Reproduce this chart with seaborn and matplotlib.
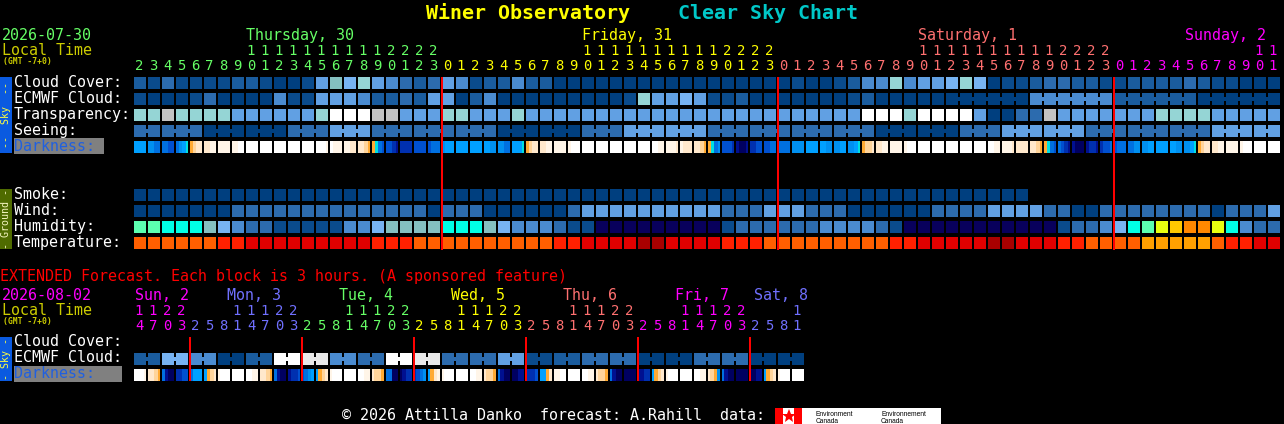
import numpy as np
import matplotlib
matplotlib.use("Agg")
import matplotlib.pyplot as plt
from matplotlib.colors import ListedColormap
from matplotlib.patches import Rectangle
import seaborn as sns

# block colours, the lists below index into this
level_colors = ["#003f7f", "#0a4b8c", "#1a5c9e", "#2c6bae", "#4a8bd0", "#61a0e3",
                "#77b3f2", "#84c0c0", "#95d5d5", "#c3c3c3", "#e9e9e9", "#ffffff",
                "#5cffb0", "#00ffe6", "#e8ff10", "#ffc800", "#ff8800", "#08005c",
                "#ff5f00", "#ff2000", "#e00000", "#a80000", "#ffa000"]

dark_keys = "abcdefghijklm"
dark_colors = ["#ffffff", "#fff5e8", "#ffe8cc", "#ffd49a", "#ffaa33", "#00e0e0", "#00a0ff",
               "#0090f0", "#0070e0", "#0050d0", "#0030b0", "#001090", "#000060"]

cloud_cover = [2, 1, 3, 1, 1, 1, 1, 2, 2, 1, 0, 0, 1, 5, 7, 6, 8, 5, 4, 3, 2,
               3, 5, 4, 1, 2, 2, 4, 2, 2, 0,
               0, 0, 0, 0, 0, 0, 0, 0, 0, 0, 0, 0, 0, 0, 0, 0,
               1, 0, 0, 1, 2,
               4, 4, 8, 4, 5, 5, 6, 8, 6,
               0, 1, 1, 2, 3, 3, 2, 2, 1, 1, 2, 2, 2, 2, 3, 2, 1, 1, 0, 0, 0]
ecmwf = [1, 0, 0, 0, 1, 3, 0, 0, 0, 0, 4, 1, 1, 5, 5, 5, 4, 2, 2, 3, 2,
         5, 5, 0, 2, 4, 0, 0, 0, 0, 0, 0, 0, 0, 0,
         1, 8, 5, 5, 6, 5, 1, 1, 2, 0, 0, 0, 0, 0, 0, 0,
         1, 2, 0, 0, 0, 0, 0, 0, 0, 0, 0, 0, 0,
         4, 4, 4, 4, 4, 4, 2, 2, 2, 2, 2, 2, 0, 0, 0, 0, 0, 0]
transparency = [8, 8, 9, 8, 8, 8, 8, 5, 5, 5, 5, 5, 5, 8, 11, 11, 11, 9, 9, 5, 5,
                5, 8, 8, 5, 5, 5, 8,
                5, 5, 5, 5, 5, 5, 5, 5, 5, 5, 5, 5, 5, 5, 5, 5, 5, 5, 5, 5, 5, 5, 5, 5,
                11, 11, 11, 8, 11, 11, 11, 11, 5, 0, 0, 3, 3, 9,
                5, 5, 5, 5, 5, 5, 5, 8, 8, 8, 8, 5, 5, 5, 5, 5]
seeing = [3, 3, 3, 3, 3, 0, 0, 0, 0, 0, 0, 3, 3, 3, 5, 5, 5, 3, 3, 3, 3, 3, 3,
          3, 3, 3, 0, 0, 0, 0, 0, 0, 3, 3, 3, 5, 5, 5, 5, 5, 5,
          3, 3, 3, 3, 3, 3, 3, 3, 3, 3, 3, 3, 0, 0, 0, 0, 0, 0, 3, 3, 3,
          5, 5, 5, 5, 5, 5, 3, 3, 3, 3, 3, 3, 3, 3, 3, 5, 5, 5, 5, 5]
darkness = ["gggg", "hhii", "iijj", "ihgf", "edcc", "ccbb", "bbbb", "bbaa", "aaaa", "aaaa", "aaaa",
            "aaaa", "aaaa", "aaab", "abbb", "bbcc", "ccde", "efij", "jjkl", "kkkk", "jjjj",
            "jiii", "hggg", "gggg", "gggg", "gghh", "hhii", "gggf", "edcc", "ccbb", "bbbb",
            "baaa", "aaaa", "aaaa", "aaaa", "aaaa", "aaaa", "aabb", "bbbc", "bccc", "ccde",
            "efih", "jjjk", "lmml", "kkjj", "jjii", "iiii", "hhhh", "gggg", "gghh", "hhgg",
            "hhgf", "eddc", "ccbb", "bbbb", "baaa", "aaaa", "aaaa", "aaaa", "aaaa", "aaaa",
            "aabb", "bbbc", "cccc", "ccde", "efij", "ijkl", "lmmm", "lkkl", "kjji", "jiii",
            "iihh", "hhgg", "gggg", "gghh", "hhgf", "edcc", "ccbb", "bbbb", "baaa", "aaaa", "aaaa"]

smoke = [0] * 64 + [np.nan] * 18
wind = [0, 0, 0, 0, 0, 0, 0, 3, 3, 3, 3, 3, 3, 3, 3, 3, 3, 3, 3, 3, 3,
        0, 3, 3, 3, 0, 0, 0, 0, 0, 0, 3, 5, 5, 5, 5, 5, 5, 5, 5, 5, 5,
        3, 3, 3, 5, 5, 5, 3, 3, 3, 0, 0, 0, 0, 0, 0, 3, 3, 3, 3,
        5, 5, 5, 5, 3, 3, 0, 0, 3, 3, 3, 3, 3, 3, 3, 3, 0, 3, 3, 3, 5]
humidity = [12, 12, 13, 13, 13, 7, 6, 4, 3, 3, 1, 1, 1, 1, 1, 4, 4, 6, 7, 7, 7,
            7, 13, 13, 13, 7, 6, 4, 4, 4, 3, 1, 1, 17, 17, 17, 17, 17, 17, 17, 17, 17,
            1, 3, 3, 3, 3, 3, 3, 4, 4, 4, 4, 3, 1,
            17, 17, 17, 17, 17, 17, 17, 17, 17, 17, 17,
            1, 3, 3, 4, 6, 13, 12, 14, 15, 16, 16, 14, 13, 4, 3, 3]
temperature = [18, 18, 18, 18, 18, 18, 19, 19, 20, 20, 20, 20, 20, 20, 20, 20, 20, 19, 19, 19,
               18, 18, 18, 18, 18, 18, 18, 18, 18, 18, 19, 19, 20, 20, 20, 20, 21, 21,
               20, 20, 20, 20, 19, 19, 19, 18, 18, 18, 18, 18, 18, 18, 18, 18, 19, 19,
               20, 20, 20, 20, 20, 21, 21, 20, 20, 20, 19, 19, 18, 18, 18, 18,
               22, 22, 22, 22, 22, 18, 19, 19, 20, 20]

ext_ecmwf = [2, 2, 6, 6, 4, 4, 0, 0, 2, 2, 11, 11, 10, 10, 4, 4, 3, 3, 11, 11, 10, 10, 3, 3,
             3, 3, 5, 5, 1, 1, 2, 2, 3, 3, 3, 3, 0, 0, 0, 0, 3, 3, 3, 3, 0, 0, 0, 0]
ext_darkness = ["aaab", "ccde", "ilmm", "kkjj", "iggg", "gedc", "baaa", "aaaa", "aabb", "ccde",
                "ilmm", "lkkj", "jihg", "gedc", "baaa", "aaaa", "aabb", "cdde", "iimm", "mlkk",
                "kjih", "gecb", "baaa", "aaaa", "aabb", "cdde", "ilmm", "mmll", "kkkj", "ggec",
                "bbaa", "aaaa", "aabb", "cdde", "ilmm", "mmmm", "llkk", "gedc", "baaa", "aaaa",
                "aabb", "cdeh", "ilmm", "mmmm", "mmll", "gedc", "baaa", "aaaa"]

hours = [2, 3, 4, 5, 6, 7, 8, 9, 10, 11, 12, 13, 14, 15, 16, 17, 18, 19, 20, 21, 22, 23,
         0, 1, 2, 3, 4, 5, 6, 7, 8, 9, 10, 11, 12, 13, 14, 15, 16, 17, 18, 19, 20, 21, 22, 23,
         0, 1, 2, 3, 4, 5, 6, 7, 8, 9, 10, 11, 12, 13, 14, 15, 16, 17, 18, 19, 20, 21, 22, 23,
         0, 1, 2, 3, 4, 5, 6, 7, 8, 9, 10, 11]
ext_hours = [14, 17, 20, 23, 2, 5, 8, 11, 14, 17, 20, 23, 2, 5, 8, 11, 14, 17, 20, 23,
             2, 5, 8, 11, 14, 17, 20, 23, 2, 5, 8, 11, 14, 17, 20, 23,
             2, 5, 8, 11, 14, 17, 20, 23, 2, 5, 8, 11]

W, H = 1284, 424
GREEN, YELLOW, PINK, MAGENTA, VIOLET = "#66ff66", "#ffff00", "#ff7070", "#ff00ff", "#7070ff"
OLIVE = "#cccc00"
MONO = "DejaVu Sans Mono"

sns.set_theme(style="dark")
plt.rcParams["font.family"] = MONO
fig = plt.figure(figsize=(W / 100, H / 100), dpi=100, facecolor="black")

level_cmap = ListedColormap(level_colors)
dark_cmap = ListedColormap(dark_colors)


def strip(values, y, cmap, sub=1, joined=()):
    n = len(values) // sub
    ax = fig.add_axes([133 / W, 1 - (y + 13) / H, 14 * n / W, 14 / H], facecolor="black")
    sns.heatmap(np.array([values], dtype=float), cmap=cmap, vmin=-0.5, vmax=cmap.N - 0.5,
                cbar=False, xticklabels=False, yticklabels=False, ax=ax)
    for k in range(n + 1):
        if k in joined:
            # neighbours in one forecast block touch through a small bridge
            ax.vlines(k * sub, 0, 0.36, color="black", lw=1.44)
            ax.vlines(k * sub, 0.64, 1, color="black", lw=1.44)
        else:
            ax.vlines(k * sub, 0, 1, color="black", lw=1.44)
    ax.hlines([0, 1], 0, n * sub, color="black", lw=1.44)
    return ax


def dark_strip(cells, y):
    idx = [dark_keys.index(c) for c in "".join(cells)]
    return strip(idx, y, dark_cmap, sub=4)


seeing_joined = [k for k in range(1, 82) if (k - 2) % 3 != 0]
ecmwf_joined = [k for k in range(59, 82) if (k - 58) % 6 != 0]
ext_joined = list(range(1, 48, 2))

strip(cloud_cover, 77, level_cmap)
strip(ecmwf, 93, level_cmap, joined=ecmwf_joined)
strip(transparency, 109, level_cmap)
strip(seeing, 125, level_cmap, joined=seeing_joined)
dark_strip(darkness, 141)
strip(smoke, 189, level_cmap)
strip(wind, 205, level_cmap)
strip(humidity, 221, level_cmap)
strip(temperature, 237, level_cmap)
strip(ext_ecmwf, 353, level_cmap, joined=ext_joined)
dark_strip(ext_darkness, 369)

# everything else goes on a pixel overlay
ov = fig.add_axes([0, 0, 1, 1], facecolor="none")
ov.set_xlim(0, W)
ov.set_ylim(H, 0)
ov.axis("off")


def txt(x, y, s, color="white", size=10.8, **kw):
    ov.text(x, y, s, color=color, fontsize=size, family=MONO, va="baseline", **kw)


def side_bar(y0, y1, color, label, text_color):
    ov.add_patch(Rectangle((0, y0), 12, y1 - y0, color=color, lw=0))
    ov.text(6, (y0 + y1) / 2, label, color=text_color, fontsize=7.2, family=MONO,
            rotation=90, ha="center", va="center")


for x in [442, 778, 1114]:
    ov.vlines(x, 77, 250, color="#ff0000", lw=1.44)
for x in [190, 302, 414, 526, 638, 750]:
    ov.vlines(x, 337, 381, color="#ff0000", lw=1.44)

txt(426, 19, "Winer Observatory", YELLOW, 14.4, weight="bold")
txt(678, 19, "Clear Sky Chart", "#00c8c8", 14.4, weight="bold")

txt(2, 40, "2026-07-30", GREEN)
txt(2, 55, "Local Time", OLIVE)
txt(3, 64, "(GMT -7+0)", OLIVE, 5.8, weight="bold")
txt(246, 40, "Thursday, 30", GREEN)
txt(582, 40, "Friday, 31", YELLOW)
txt(918, 40, "Saturday, 1", PINK)
txt(1185, 40, "Sunday, 2", MAGENTA)

for k, h in enumerate(hours):
    c = GREEN if k < 22 else YELLOW if k < 46 else PINK if k < 70 else MAGENTA
    if h >= 10:
        txt(134 + 14 * k + 5, 55, str(h // 10), c, 10, ha="center")
    txt(134 + 14 * k + 5, 70, str(h % 10), c, 10, ha="center")

row_names = ["Cloud Cover:", "ECMWF Cloud:", "Transparency:", "Seeing:"]
for i, name in enumerate(row_names):
    txt(14, 87 + 16 * i, name)
ov.add_patch(Rectangle((14, 138), 90, 16, color="#808080", lw=0))
txt(14, 151, "Darkness:", "#2060e0")
side_bar(77, 153, "#0a5ae0", "--  Sky  --", "#ffff40")

for i, name in enumerate(["Smoke:", "Wind:", "Humidity:", "Temperature:"]):
    txt(14, 199 + 16 * i, name)
side_bar(189, 249, "#4f6b00", "- Ground -", "#f4f4c0")

txt(0, 281, "EXTENDED Forecast. Each block is 3 hours. (A sponsored feature)", "#ff0000")
txt(2, 300, "2026-08-02", MAGENTA)
txt(2, 315, "Local Time", OLIVE)
txt(3, 324, "(GMT -7+0)", OLIVE, 5.8, weight="bold")
for x, s, c in [(135, "Sun, 2", MAGENTA), (227, "Mon, 3", VIOLET), (339, "Tue, 4", GREEN),
                (451, "Wed, 5", YELLOW), (563, "Thu, 6", PINK), (675, "Fri, 7", MAGENTA),
                (754, "Sat, 8", VIOLET)]:
    txt(x, 300, s, c)
ext_cols = [MAGENTA, VIOLET, GREEN, YELLOW, PINK, MAGENTA, VIOLET]
for k, h in enumerate(ext_hours):
    c = ext_cols[(k + 4) // 8]
    if h >= 10:
        txt(134 + 14 * k + 5, 315, str(h // 10), c, 10, ha="center")
    txt(134 + 14 * k + 5, 330, str(h % 10), c, 10, ha="center")

txt(14, 346, "Cloud Cover:")
txt(14, 362, "ECMWF Cloud:")
ov.add_patch(Rectangle((14, 366), 108, 16, color="#808080", lw=0))
txt(14, 378, "Darkness:", "#2060e0")
side_bar(337, 381, "#0a5ae0", "- Sky -", "#ffff40")

txt(342, 420, "\u00a9 2026 Attilla Danko  forecast: A.Rahill  data:")
ov.add_patch(Rectangle((775, 408), 166, 16, color="white", lw=0))
ov.add_patch(Rectangle((775, 408), 8, 16, color="#ff0000", lw=0))
ov.add_patch(Rectangle((794, 408), 8, 16, color="#ff0000", lw=0))
ov.plot([788.5], [416], marker="*", ms=10, color="#ff0000", mew=0)
for x, s in [(816, "Environment"), (881, "Environnement")]:
    ov.text(x, 416, s, color="black", fontsize=4.8, family="Liberation Sans")
    ov.text(x, 423, "Canada", color="black", fontsize=4.8, family="Liberation Sans")

fig.savefig("out.png", dpi=100, facecolor="black")
